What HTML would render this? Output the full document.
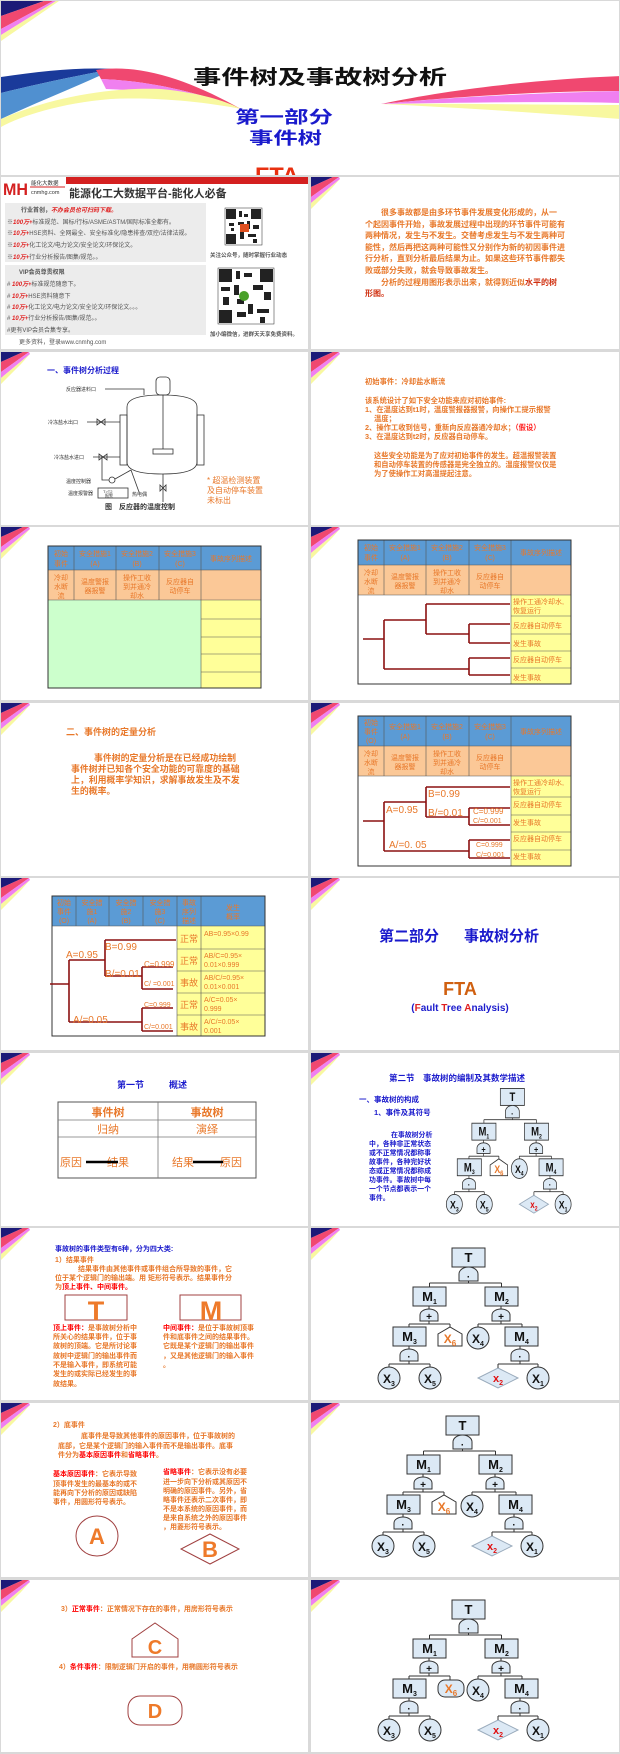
<!DOCTYPE html>
<html><head><meta charset="utf-8">
<style>
html,body{margin:0;padding:0;background:#d9d9d9;}
body{width:620px;height:1754px;position:relative;overflow:hidden;font-family:"Liberation Sans","Noto Sans CJK SC",sans-serif;}
.s{position:absolute;background:#fff;overflow:hidden;}
.s svg{position:absolute;left:0;top:0;}
text{font-family:"Liberation Sans","Noto Sans CJK SC",sans-serif;}
.o{fill:#e8782a;}
.ob{fill:#e8782a;font-weight:bold;}
.bl{fill:#1a1acc;font-weight:bold;}
.rd{fill:#ff0000;font-weight:bold;}
.br{fill:none;stroke:#8b1010;stroke-width:1.6;}
</style></head><body>

<!-- Title slide -->
<div class="s" style="left:1px;top:1px;width:618px;height:174px">
<svg width="618" height="174">
<polygon points="0,0 43,0 0,15" fill="#1c1a78"/>
<polygon points="43,0 52,0 0,28 0,15" fill="#f04870"/>
<polygon points="52,0 55,0 0,34 0,28" fill="#f080f0"/>
<polygon points="55,0 58,0 0,40 0,34" fill="#f8f8a0"/>
<path d="M0,76 C40,70 80,66 112,68 C80,74 40,82 0,92 Z" fill="#1a3a9a"/>
<path d="M0,92 C40,82 80,74 112,68 C90,80 50,95 0,118 Z" fill="#5090d0"/>
<path d="M95,69 C140,62 190,80 240,108 C200,92 150,80 100,78 Z" fill="#f04870"/>
<path d="M100,78 C150,80 200,92 240,108 C200,96 150,90 105,88 Z" fill="#f080f0"/>
<path d="M0,118 C50,96 110,86 160,88 C200,92 225,100 240,108 C200,100 150,96 110,98 C60,102 20,115 0,126 Z" fill="#f8f8a0"/>
<path d="M380,103 C450,88 540,78 620,75 L620,90 C540,90 450,96 380,103 Z" fill="#f04870"/>
<path d="M380,103 C450,96 540,92 620,90 L620,102 C540,100 450,102 380,103 Z" fill="#f080f0"/>
<path d="M380,103 C450,102 540,104 620,104 L620,118 C540,112 450,106 380,103 Z" fill="#f8f8a0"/>
<text x="192" y="83" font-size="20" font-weight="bold" fill="#111" textLength="254" lengthAdjust="spacingAndGlyphs">事件树及事故树分析</text>
<text x="234" y="122" font-size="17" font-weight="bold" fill="#1a1acc" textLength="98" lengthAdjust="spacingAndGlyphs">第一部分</text>
<text x="248" y="143" font-size="17" font-weight="bold" fill="#1a1acc" textLength="73" lengthAdjust="spacingAndGlyphs">事件树</text>
<text x="254" y="182" font-size="22" font-weight="bold" fill="#e83010" textLength="44" lengthAdjust="spacingAndGlyphs">FTA</text>
</svg></div>

<!-- Row 2 left: ad -->
<div class="s" style="left:1px;top:177px;width:307px;height:172px">
<svg width="307" height="172">
<rect x="65" y="0" width="242" height="7" fill="#d42020"/>
<text x="2" y="18" font-size="17" font-weight="bold" fill="#d42020" textLength="25" lengthAdjust="spacingAndGlyphs">MH</text>
<text x="30" y="8" font-size="5.5" fill="#333">能化大数据</text>
<line x1="29" y1="10" x2="64" y2="10" stroke="#d42020"/>
<text x="30" y="17" font-size="5.5" fill="#333">cnmhg.com</text>
<text x="68" y="20" font-size="11" font-weight="bold" fill="#333">能源化工大数据平台-能化人必备</text>
<rect x="4" y="26" width="201" height="59" fill="#ececec"/>
<rect x="4" y="88" width="201" height="70" fill="#ececec"/>
<g font-size="6" fill="#555">
<text x="20" y="35" font-weight="bold">行业首创，<tspan fill="#e02020" font-style="italic">不办会员也可扫码下载。</tspan></text>
<text x="6" y="47">※<tspan fill="#e02020" font-style="italic" font-weight="bold">100万+</tspan>标准规范、国标/行标/ASME/ASTM/国际标准全都有。</text>
<text x="6" y="58">※<tspan fill="#e02020" font-style="italic" font-weight="bold">10万+</tspan>HSE资料、全网最全、安全标准化/隐患排查/双控/法律法规。</text>
<text x="6" y="70">※<tspan fill="#e02020" font-style="italic" font-weight="bold">10万+</tspan>化工论文/电力论文/安全论文/环保论文。</text>
<text x="6" y="82">※<tspan fill="#e02020" font-style="italic" font-weight="bold">10万+</tspan>行业分析报告/图集/规范。。</text>
<text x="18" y="97" font-weight="bold">VIP会员尊贵权限</text>
<text x="6" y="109"># <tspan fill="#e02020" font-style="italic" font-weight="bold">100万+</tspan>标准规范随意下。</text>
<text x="6" y="121"># <tspan fill="#e02020" font-style="italic" font-weight="bold">10万+</tspan>HSE资料随意下</text>
<text x="6" y="132"># <tspan fill="#e02020" font-style="italic" font-weight="bold">10万+</tspan>化工论文/电力论文/安全论文/环保论文。。。</text>
<text x="6" y="143"># <tspan fill="#e02020" font-style="italic" font-weight="bold">10万+</tspan>行业分析报告/图集/规范。。</text>
<text x="6" y="155">#更有VIP会员合集专享。</text>
<text x="18" y="167">更多资料，登录www.cnmhg.com</text>
<text x="209" y="80" font-size="5.5" font-weight="bold">关注公众号，随时掌握行业动态</text>
<text x="209" y="159" font-size="5.5" font-weight="bold">加小编微信，进群天天享免费资料。</text>
</g>
<g fill="#222">
<rect x="224" y="31" width="37" height="37" fill="#fff" stroke="#222" stroke-width="0.5"/>
<rect x="225" y="32" width="10" height="10"/><rect x="250" y="32" width="10" height="10"/><rect x="225" y="57" width="10" height="10"/>
<rect x="238" y="34" width="3" height="6"/><rect x="243" y="37" width="4" height="3"/><rect x="237" y="45" width="6" height="3"/><rect x="246" y="44" width="3" height="8"/><rect x="228" y="46" width="5" height="3"/><rect x="252" y="48" width="6" height="4"/><rect x="239" y="55" width="4" height="7"/><rect x="247" y="57" width="8" height="3"/><rect x="252" y="62" width="4" height="4"/><rect x="230" y="51" width="3" height="3"/>
<rect x="239" y="47" width="9" height="8" fill="#e05020"/>
<rect x="217" y="91" width="56" height="56" fill="#fff" stroke="#222" stroke-width="0.5"/>
<rect x="218" y="92" width="13" height="13"/><rect x="259" y="92" width="13" height="13"/><rect x="218" y="133" width="13" height="13"/>
<rect x="235" y="94" width="4" height="8"/><rect x="243" y="96" width="8" height="4"/><rect x="220" y="110" width="9" height="4"/><rect x="233" y="108" width="5" height="10"/><rect x="252" y="108" width="10" height="5"/><rect x="263" y="115" width="7" height="8"/><rect x="222" y="120" width="6" height="8"/><rect x="247" y="127" width="5" height="10"/><rect x="236" y="135" width="9" height="5"/><rect x="256" y="132" width="12" height="4"/><rect x="259" y="140" width="5" height="6"/><rect x="236" y="122" width="7" height="5"/>
<circle cx="243" cy="119" r="5" fill="#4aa02a"/>
</g>
</svg></div>

<!-- Row 2 right -->
<div class="s" style="left:311px;top:177px;width:308px;height:172px">
<svg width="308" height="172">
<polygon points="0,0 22,0 0,10" fill="#1c1a78"/><polygon points="22,0 28,0 0,20 0,10" fill="#f04870"/><polygon points="28,0 29,2 0,26 0,20" fill="#f080f0"/><polygon points="29,2 20,12 0,32 0,26" fill="#f8f8a0"/>
<g font-size="8" class="ob">
<text x="70" y="38">很多事故都是由多环节事件发展变化形成的，从一</text>
<text x="54" y="50">个起因事件开始，事故发展过程中出现的环节事件可能有</text>
<text x="54" y="61">两种情况，发生与不发生。交替考虑发生与不发生两种可</text>
<text x="54" y="73">能性，然后再把这两种可能性又分别作为新的初因事件进</text>
<text x="54" y="84">行分析，直到分析最后结果为止。如果这些环节事件都失</text>
<text x="54" y="96">败或部分失败，就会导致事故发生。</text>
<text x="70" y="108">分析的过程用图形表示出来，就得到近似<tspan fill="#d03010">水平的树</tspan></text>
<text x="54" y="119" fill="#d03010">形图。</text>
</g>
</svg></div>

<!-- Row 3 left -->
<div class="s" style="left:1px;top:352px;width:307px;height:173px">
<svg width="307" height="173">
<polygon points="0,0 22,0 0,10" fill="#1c1a78"/><polygon points="22,0 28,0 0,20 0,10" fill="#f04870"/><polygon points="28,0 29,2 0,26 0,20" fill="#f080f0"/><polygon points="29,2 20,12 0,32 0,26" fill="#f8f8a0"/>
<text x="46" y="21" font-size="8" class="bl">一、事件树分析过程</text>
<g fill="none" stroke="#333" stroke-width="0.8">
<path d="M126,55 Q126,43 161,43 Q196,43 196,55 V110 Q196,122 161,122 Q126,122 126,110 Z"/>
<rect x="155" y="25" width="14" height="18" rx="4"/>
<line x1="162" y1="43" x2="162" y2="97"/>
<rect x="152" y="97" width="20" height="5"/>
<rect x="119" y="63" width="7" height="50"/><rect x="196" y="63" width="7" height="50"/>
<path d="M104,37 H143 V43"/>
<path d="M86,70 H119 M96,67 L104,73 V67 L96,73 Z"/>
<path d="M92,105 H119 M98,102 L106,108 V102 L98,108 Z"/>
<path d="M101,105 V128 H108"/><circle cx="111" cy="128" r="3"/>
<path d="M114,127 L130,118"/>
<rect x="97" y="136" width="30" height="10"/>
<path d="M130,118 L138,140"/>
<path d="M162,122 V150 M159,133 L165,139 V133 L159,139 Z"/>
</g>
<g font-size="5" fill="#333">
<text x="65" y="39">反应器进料口</text>
<text x="47" y="72">冷冻盐水出口</text>
<text x="53" y="107">冷冻盐水进口</text>
<text x="65" y="131">温度控制器</text>
<text x="67" y="143">温度报警器</text>
<text x="102" y="141" font-size="4">T&gt;T2</text><text x="104" y="145" font-size="4">报警</text>
<text x="131" y="144">热电偶</text>
</g>
<text x="104" y="157" font-size="7" font-weight="bold" fill="#333">图　反应器的温度控制</text>
<g font-size="8" class="o"><text x="206" y="131">* 超温检测装置</text><text x="206" y="141">及自动停车装置</text><text x="206" y="151">未标出</text></g>
</svg></div>

<!-- Row 3 right -->
<div class="s" style="left:311px;top:352px;width:308px;height:173px">
<svg width="308" height="173">
<polygon points="0,0 22,0 0,10" fill="#1c1a78"/><polygon points="22,0 28,0 0,20 0,10" fill="#f04870"/><polygon points="28,0 29,2 0,26 0,20" fill="#f080f0"/><polygon points="29,2 20,12 0,32 0,26" fill="#f8f8a0"/>
<g font-size="7.3" class="ob">
<text x="54" y="32">初始事件：冷却盐水断流</text>
<text x="54" y="51">该系统设计了如下安全功能来应对初始事件:</text>
<text x="54" y="60">1、在温度达到t1时，温度警报器报警，向操作工提示报警</text>
<text x="63" y="69">温度；</text>
<text x="54" y="78">2、操作工收到信号，重新向反应器通冷却水；<tspan fill="#ff2020">（假设）</tspan></text>
<text x="54" y="87">3、在温度达到t2时，反应器自动停车。</text>
<text x="63" y="106">这些安全功能是为了应对初始事件的发生。超温报警装置</text>
<text x="63" y="115">和自动停车装置的传感器是完全独立的。温度报警仪仅是</text>
<text x="63" y="124">为了使操作工对高温提起注意。</text>
</g>
</svg></div>

<!-- Row 4 left -->
<div class="s" style="left:1px;top:527px;width:307px;height:173px">
<svg width="307" height="173">
<polygon points="0,0 22,0 0,10" fill="#1c1a78"/><polygon points="22,0 28,0 0,20 0,10" fill="#f04870"/><polygon points="28,0 29,2 0,26 0,20" fill="#f080f0"/><polygon points="29,2 20,12 0,32 0,26" fill="#f8f8a0"/>
<rect x="47" y="19" width="213" height="24" fill="#5b9bd5"/>
<rect x="47" y="43" width="213" height="30" fill="#fbc897"/>
<rect x="47" y="73" width="153" height="88" fill="#ccffcc"/>
<rect x="200" y="73" width="60" height="88" fill="#ffff99"/>
<g stroke="#555" stroke-width="0.6"><line x1="47" y1="43" x2="260" y2="43"/><line x1="47" y1="73" x2="260" y2="73"/>
<line x1="73" y1="19" x2="73" y2="73"/><line x1="115" y1="19" x2="115" y2="73"/><line x1="158" y1="19" x2="158" y2="73"/><line x1="200" y1="19" x2="200" y2="161"/>
<line x1="200" y1="92" x2="260" y2="92"/><line x1="200" y1="110" x2="260" y2="110"/><line x1="200" y1="127" x2="260" y2="127"/><line x1="200" y1="145" x2="260" y2="145"/></g>
<rect x="47" y="19" width="213" height="142" fill="none" stroke="#333" stroke-width="1"/>
<g font-size="7" class="o" text-anchor="middle">
<text x="60" y="29">初始</text><text x="60" y="39">事件</text>
<text x="94" y="29">安全措施1</text><text x="94" y="39">(A)</text>
<text x="136" y="29">安全措施2</text><text x="136" y="39">(B)</text>
<text x="179" y="29">安全措施3</text><text x="179" y="39">(C)</text>
<text x="230" y="34">事故序列描述</text>
<text x="60" y="53">冷却</text><text x="60" y="62">水断</text><text x="60" y="71">流</text>
<text x="94" y="57">温度警报</text><text x="94" y="66">器报警</text>
<text x="136" y="53">操作工收</text><text x="136" y="62">到并通冷</text><text x="136" y="71">却水</text>
<text x="179" y="57">反应器自</text><text x="179" y="66">动停车</text>
</g>
</svg></div>

<!-- Row 4 right -->
<div class="s" style="left:311px;top:527px;width:308px;height:173px">
<svg width="308" height="173">
<polygon points="0,0 22,0 0,10" fill="#1c1a78"/><polygon points="22,0 28,0 0,20 0,10" fill="#f04870"/><polygon points="28,0 29,2 0,26 0,20" fill="#f080f0"/><polygon points="29,2 20,12 0,32 0,26" fill="#f8f8a0"/>
<rect x="47" y="13" width="213" height="25" fill="#5b9bd5"/>
<rect x="47" y="38" width="213" height="30" fill="#fbc897"/>
<rect x="200" y="68" width="60" height="89" fill="#ffff99"/>
<g stroke="#555" stroke-width="0.6"><line x1="47" y1="38" x2="260" y2="38"/><line x1="47" y1="68" x2="260" y2="68"/>
<line x1="73" y1="13" x2="73" y2="68"/><line x1="115" y1="13" x2="115" y2="68"/><line x1="158" y1="13" x2="158" y2="68"/><line x1="200" y1="13" x2="200" y2="157"/>
<line x1="200" y1="89" x2="260" y2="89"/><line x1="200" y1="107" x2="260" y2="107"/><line x1="200" y1="124" x2="260" y2="124"/><line x1="200" y1="141" x2="260" y2="141"/></g>
<rect x="47" y="13" width="213" height="144" fill="none" stroke="#333" stroke-width="1"/>
<g font-size="7" class="o" text-anchor="middle">
<text x="60" y="23">初始</text><text x="60" y="33">事件</text>
<text x="94" y="23">安全措施1</text><text x="94" y="33">(A)</text>
<text x="136" y="23">安全措施2</text><text x="136" y="33">(B)</text>
<text x="179" y="23">安全措施3</text><text x="179" y="33">(C)</text>
<text x="230" y="28">事故序列描述</text>
<text x="60" y="48">冷却</text><text x="60" y="57">水断</text><text x="60" y="66">流</text>
<text x="94" y="52">温度警报</text><text x="94" y="61">器报警</text>
<text x="136" y="48">操作工收</text><text x="136" y="57">到并通冷</text><text x="136" y="66">却水</text>
<text x="179" y="52">反应器自</text><text x="179" y="61">动停车</text>
</g>
<g font-size="7" class="o"><text x="202" y="77">操作工通冷却水,</text><text x="202" y="86">恢复运行</text><text x="202" y="101">反应器自动停车</text><text x="202" y="119">发生事故</text><text x="202" y="135">反应器自动停车</text><text x="202" y="153">发生事故</text></g>
<path class="br" d="M52,112 H73 M73,93 V142 M73,93 H115 M115,77 V107 M115,77 H199 M115,107 H158 M158,97 V116 M158,97 H199 M158,116 H199 M73,142 H158 M158,131 V148 M158,131 H199 M158,148 H199"/>
</svg></div>

<!-- Row 5 left -->
<div class="s" style="left:1px;top:703px;width:307px;height:173px">
<svg width="307" height="173">
<polygon points="0,0 22,0 0,10" fill="#1c1a78"/><polygon points="22,0 28,0 0,20 0,10" fill="#f04870"/><polygon points="28,0 29,2 0,26 0,20" fill="#f080f0"/><polygon points="29,2 20,12 0,32 0,26" fill="#f8f8a0"/>
<text x="65" y="32" font-size="9" class="ob">二、事件树的定量分析</text>
<g font-size="8.9" class="ob">
<text x="93" y="58">事件树的定量分析是在已经成功绘制</text>
<text x="70" y="69">事件树并已知各个安全功能的可靠度的基础</text>
<text x="70" y="80">上，利用概率学知识，求解事故发生及不发</text>
<text x="70" y="91">生的概率。</text>
</g>
</svg></div>

<!-- Row 5 right -->
<div class="s" style="left:311px;top:703px;width:308px;height:173px">
<svg width="308" height="173">
<polygon points="0,0 22,0 0,10" fill="#1c1a78"/><polygon points="22,0 28,0 0,20 0,10" fill="#f04870"/><polygon points="28,0 29,2 0,26 0,20" fill="#f080f0"/><polygon points="29,2 20,12 0,32 0,26" fill="#f8f8a0"/>
<rect x="47" y="13" width="213" height="30" fill="#5b9bd5"/>
<rect x="47" y="43" width="213" height="30" fill="#fbc897"/>
<rect x="200" y="73" width="60" height="90" fill="#ffff99"/>
<g stroke="#555" stroke-width="0.6"><line x1="47" y1="43" x2="260" y2="43"/><line x1="47" y1="73" x2="260" y2="73"/>
<line x1="73" y1="13" x2="73" y2="73"/><line x1="115" y1="13" x2="115" y2="73"/><line x1="158" y1="13" x2="158" y2="73"/><line x1="200" y1="13" x2="200" y2="163"/>
<line x1="200" y1="94" x2="260" y2="94"/><line x1="200" y1="112" x2="260" y2="112"/><line x1="200" y1="129" x2="260" y2="129"/><line x1="200" y1="147" x2="260" y2="147"/></g>
<rect x="47" y="13" width="213" height="150" fill="none" stroke="#333" stroke-width="1"/>
<g font-size="7" class="o" text-anchor="middle">
<text x="60" y="22">初始</text><text x="60" y="31">事件</text><text x="60" y="40">(O)</text>
<text x="94" y="26">安全措施1</text><text x="94" y="36">(A)</text>
<text x="136" y="26">安全措施2</text><text x="136" y="36">(B)</text>
<text x="179" y="26">安全措施3</text><text x="179" y="36">(C)</text>
<text x="230" y="31">事故序列描述</text>
<text x="60" y="53">冷却</text><text x="60" y="62">水断</text><text x="60" y="71">流</text>
<text x="94" y="57">温度警报</text><text x="94" y="66">器报警</text>
<text x="136" y="53">操作工收</text><text x="136" y="62">到并通冷</text><text x="136" y="71">却水</text>
<text x="179" y="57">反应器自</text><text x="179" y="66">动停车</text>
</g>
<g font-size="7" class="o"><text x="202" y="82">操作工通冷却水,</text><text x="202" y="91">恢复运行</text><text x="202" y="104">反应器自动停车</text><text x="202" y="122">发生事故</text><text x="202" y="138">反应器自动停车</text><text x="202" y="156">发生事故</text></g>
<path class="br" d="M52,118 H73 M73,99 V148 M73,99 H115 M115,84 V114 M115,84 H199 M115,114 H158 M158,105 V122 M158,105 H199 M158,122 H199 M73,148 H158 M158,137 V155 M158,137 H199 M158,155 H199"/>
<g class="o">
<text x="117" y="94" font-size="10">B=0.99</text>
<text x="75" y="110" font-size="10">A=0.95</text>
<text x="117" y="113" font-size="10">B/=0.01</text>
<text x="162" y="111" font-size="8">C=0.999</text>
<text x="162" y="120" font-size="7">C/=0.001</text>
<text x="78" y="145" font-size="10">A/=0. 05</text>
<text x="165" y="144" font-size="7">C=0.999</text>
<text x="165" y="154" font-size="7">C/=0.001</text>
</g>
</svg></div>

<!-- Row 6 left -->
<div class="s" style="left:1px;top:878px;width:307px;height:172px">
<svg width="307" height="172">
<polygon points="0,0 22,0 0,10" fill="#1c1a78"/><polygon points="22,0 28,0 0,20 0,10" fill="#f04870"/><polygon points="28,0 29,2 0,26 0,20" fill="#f080f0"/><polygon points="29,2 20,12 0,32 0,26" fill="#f8f8a0"/>
<rect x="51" y="18" width="213" height="30" fill="#5b9bd5"/>
<rect x="176" y="48" width="88" height="110" fill="#ffff99"/>
<g stroke="#555" stroke-width="0.6"><line x1="51" y1="48" x2="264" y2="48"/>
<line x1="75" y1="18" x2="75" y2="48"/><line x1="108" y1="18" x2="108" y2="48"/><line x1="142" y1="18" x2="142" y2="48"/><line x1="176" y1="18" x2="176" y2="158"/><line x1="200" y1="18" x2="200" y2="158"/>
<line x1="176" y1="71" x2="264" y2="71"/><line x1="176" y1="93" x2="264" y2="93"/><line x1="176" y1="115" x2="264" y2="115"/><line x1="176" y1="137" x2="264" y2="137"/></g>
<rect x="51" y="18" width="213" height="140" fill="none" stroke="#333" stroke-width="1"/>
<g font-size="7" class="o" text-anchor="middle">
<text x="63" y="27">初始</text><text x="63" y="36">事件</text><text x="63" y="45">(O)</text>
<text x="91" y="27">安全措</text><text x="91" y="36">施1</text><text x="91" y="45">(A)</text>
<text x="125" y="27">安全措</text><text x="125" y="36">施2</text><text x="125" y="45">(B)</text>
<text x="159" y="27">安全措</text><text x="159" y="36">施3</text><text x="159" y="45">(C)</text>
<text x="188" y="27">事故</text><text x="188" y="36">序列</text><text x="188" y="45">描述</text>
<text x="232" y="32">发生</text><text x="232" y="41">概率</text>
</g>
<g font-size="9" class="o" text-anchor="middle"><text x="188" y="64">正常</text><text x="188" y="86">正常</text><text x="188" y="108">事故</text><text x="188" y="130">正常</text><text x="188" y="152">事故</text></g>
<g font-size="7" class="o">
<text x="203" y="58">AB=0.95×0.99</text>
<text x="203" y="80">AB/C=0.95×</text><text x="203" y="89">0.01×0.999</text>
<text x="203" y="102">AB/C/=0.95×</text><text x="203" y="111">0.01×0.001</text>
<text x="203" y="124">A/C=0.05×</text><text x="203" y="133">0.999</text>
<text x="203" y="146">A/C/=0.05×</text><text x="203" y="155">0.001</text>
</g>
<path class="br" d="M49,106 H68 M68,82 V144 M68,82 H104 M104,62 V98 M104,62 H175 M104,98 H141 M141,89 V111 M141,89 H172 M141,111 H172 M68,144 H141 M141,130 V153 M141,130 H172 M141,153 H172"/>
<g class="o">
<text x="65" y="80" font-size="10">A=0.95</text>
<text x="104" y="72" font-size="10">B=0.99</text>
<text x="104" y="99" font-size="10">B/=0.01</text>
<text x="143" y="89" font-size="8">C=0.999</text>
<text x="143" y="108" font-size="7">C/ =0.001</text>
<text x="72" y="145" font-size="10">A/=0.05</text>
<text x="143" y="129" font-size="7">C=0.999</text>
<text x="143" y="151" font-size="7">C/=0.001</text>
</g>
</svg></div>

<!-- Row 6 right -->
<div class="s" style="left:311px;top:878px;width:308px;height:172px">
<svg width="308" height="172">
<polygon points="0,0 22,0 0,10" fill="#1c1a78"/><polygon points="22,0 28,0 0,20 0,10" fill="#f04870"/><polygon points="28,0 29,2 0,26 0,20" fill="#f080f0"/><polygon points="29,2 20,12 0,32 0,26" fill="#f8f8a0"/>
<text x="68" y="63" font-size="15" class="bl">第二部分</text>
<text x="153" y="63" font-size="15" class="bl">事故树分析</text>
<text x="149" y="117" font-size="18" font-weight="bold" text-anchor="middle" fill="#d06010" font-family="Liberation Serif,serif">FTA</text>
<text x="149" y="133" font-size="10" font-weight="bold" text-anchor="middle" fill="#1a1acc" font-family="Liberation Serif,serif">(<tspan fill="#e02020">F</tspan>ault <tspan fill="#e02020">T</tspan>ree <tspan fill="#e02020">A</tspan>nalysis)</text>
</svg></div>

<!-- Row 7 left -->
<div class="s" style="left:1px;top:1053px;width:307px;height:173px">
<svg width="307" height="173">
<polygon points="0,0 22,0 0,10" fill="#1c1a78"/><polygon points="22,0 28,0 0,20 0,10" fill="#f04870"/><polygon points="28,0 29,2 0,26 0,20" fill="#f080f0"/><polygon points="29,2 20,12 0,32 0,26" fill="#f8f8a0"/>
<text x="116" y="35" font-size="9" class="bl">第一节</text><text x="168" y="35" font-size="9" class="bl">概述</text>
<rect x="57" y="49" width="198" height="76" fill="none" stroke="#555" stroke-width="1"/>
<g stroke="#777" stroke-width="0.8"><line x1="57" y1="67" x2="255" y2="67"/><line x1="57" y1="84" x2="255" y2="84"/><line x1="157" y1="49" x2="157" y2="125"/></g>
<g font-size="11" class="ob" text-anchor="middle"><text x="107" y="63">事件树</text><text x="206" y="63">事故树</text></g>
<g font-size="11" class="o" text-anchor="middle"><text x="107" y="80">归纳</text><text x="206" y="80">演绎</text></g>
<g font-size="11" class="o"><text x="59" y="113">原因</text><text x="106" y="113">结果</text><text x="171" y="113">结果</text><text x="219" y="113">原因</text></g>
<path d="M85,109 H117 M192,109 H222" stroke="#000" stroke-width="2.5"/>
</svg></div>

<!-- Row 7 right -->
<div class="s" style="left:311px;top:1053px;width:308px;height:173px">
<svg width="308" height="173">
<polygon points="0,0 22,0 0,10" fill="#1c1a78"/><polygon points="22,0 28,0 0,20 0,10" fill="#f04870"/><polygon points="28,0 29,2 0,26 0,20" fill="#f080f0"/><polygon points="29,2 20,12 0,32 0,26" fill="#f8f8a0"/>
<text x="78" y="28" font-size="8.5" class="bl">第二节　事故树的编制及其数学描述</text>
<text x="48" y="49" font-size="7.5" class="bl">一、事故树的构成</text>
<text x="63" y="62" font-size="7.5" class="bl">1、事件及其符号</text>
<g font-size="6.9" class="bl">
<text x="80" y="84">在事故树分析</text><text x="58" y="93">中，各种非正常状态</text><text x="58" y="102">或不正常情况都称事</text><text x="58" y="111">故事件，各种完好状</text><text x="58" y="120">态或正常情况都称成</text><text x="58" y="129">功事件。事故树中每</text><text x="58" y="138">一个节点都表示一个</text><text x="58" y="147">事件。</text>
</g>
<g transform="translate(86.4,17.7) scale(0.73,0.89)">
<g fill="#dce9f5" stroke="#333" stroke-width="1">
<rect x="141" y="20" width="33" height="19"/><path d="M148,53V46A9.5,7 0 0 1 167,46V53Z"/>
<rect x="102" y="59" width="33" height="19"/><rect x="174" y="59" width="33" height="19"/>
<path d="M109,93V87A9,6 0 0 1 127,87V93Z"/><path d="M181,93V87A9,6 0 0 1 199,87V93Z"/>
<rect x="82" y="99" width="33" height="19"/><polygon fill="#fff" points="127,118 151,118 151,106 139,99 127,106"/>
<circle cx="167" cy="110" r="11"/><rect x="194" y="99" width="33" height="19"/>
<path d="M89,133V127A9,6 0 0 1 107,127V133Z"/><path d="M200,133V127A9,6 0 0 1 218,127V133Z"/>
<circle cx="78" cy="150" r="11"/><circle cx="119" cy="150" r="11"/>
<polygon stroke="#9ab" points="187,140 207,150 187,160 167,150"/><circle cx="227" cy="150" r="11"/>
</g>
<path fill="none" stroke="#333" d="M157.5,53V55 M118.5,55H190.5 M118.5,55V59 M190.5,55V59 M118,78V81 M118,93V96 M98,96H139 M98,96V99 M139,96V99 M190,78V81 M190,93V96 M167,96H211 M167,96V99 M211,96V99 M98,118V121 M98,133V136 M78,136H119 M78,136V139 M119,136V139 M209,118V121 M209,133V136 M187,136H227 M187,136V140 M227,136V139"/>
<g font-family="Liberation Serif,serif" font-weight="bold" font-size="13" text-anchor="middle" fill="#111">
<text x="157.5" y="34">T</text><text x="157.5" y="52" font-size="10">·</text>
<text x="118.5" y="73">M<tspan font-size="7" dy="3">1</tspan></text><text x="190.5" y="73">M<tspan font-size="7" dy="3">2</tspan></text>
<text x="118" y="92" font-size="10">+</text><text x="190" y="92" font-size="10">+</text>
<text x="98.5" y="113">M<tspan font-size="7" dy="3">3</tspan></text><text x="210.5" y="113">M<tspan font-size="7" dy="3">4</tspan></text>
<text x="139" y="115" fill="#e8782a" font-size="12">X<tspan font-size="8" dy="3">6</tspan></text>
<text x="167" y="115" font-size="12">X<tspan font-size="7" dy="3">4</tspan></text>
<text x="98" y="132" font-size="10">·</text><text x="209" y="132" font-size="10">·</text>
<text x="78" y="155" font-size="12">X<tspan font-size="7" dy="3">3</tspan></text><text x="119" y="155" font-size="12">X<tspan font-size="7" dy="3">5</tspan></text>
<text x="187" y="154" font-size="11" fill="#e01010">x<tspan font-size="7" dy="3">2</tspan></text><text x="227" y="155" font-size="12">X<tspan font-size="7" dy="3">1</tspan></text>
</g>
</g>
</svg></div>

<!-- Row 8 left -->
<div class="s" style="left:1px;top:1228px;width:307px;height:172px">
<svg width="307" height="172">
<polygon points="0,0 22,0 0,10" fill="#1c1a78"/><polygon points="22,0 28,0 0,20 0,10" fill="#f04870"/><polygon points="28,0 29,2 0,26 0,20" fill="#f080f0"/><polygon points="29,2 20,12 0,32 0,26" fill="#f8f8a0"/>
<text x="54" y="23" font-size="7" class="bl">事故树的事件类型有6种，分为四大类:</text>
<g font-size="7" class="ob">
<text x="54" y="34">1）结果事件</text>
<text x="77" y="43">结果事件由其他事件或事件组合所导致的事件，它</text>
<text x="54" y="52">位于某个逻辑门的输出端。用 矩形符号表示。结果事件分</text>
<text x="54" y="61">为<tspan fill="#ff0000">顶上事件、中间事件。</tspan></text>
</g>
<rect x="64" y="67" width="62" height="25" fill="#fff" stroke="#a04040"/>
<rect x="179" y="67" width="61" height="25" fill="#fff" stroke="#a04040"/>
<text x="95" y="92" font-size="27" font-weight="bold" text-anchor="middle" fill="#ee7a2a">T</text>
<text x="210" y="92" font-size="27" font-weight="bold" text-anchor="middle" fill="#ee7a2a">M</text>
<g font-size="7" class="ob">
<text x="52" y="102"><tspan fill="#ff0000">顶上事件：</tspan>是事故树分析中</text>
<text x="52" y="111">所关心的结果事件，位于事</text>
<text x="52" y="120">故树的顶端。它是所讨论事</text>
<text x="52" y="130">故树中逻辑门的输出事件而</text>
<text x="52" y="139">不是输入事件，即系统可能</text>
<text x="52" y="148">发生的或实际已经发生的事</text>
<text x="52" y="158">故结果。</text>
<text x="162" y="102"><tspan fill="#ff0000">中间事件：</tspan>是位于事故树顶事</text>
<text x="162" y="111">件和底事件之间的结果事件。</text>
<text x="162" y="120">它既是某个逻辑门的输出事件</text>
<text x="162" y="130">，又是其他逻辑门的输入事件</text>
<text x="162" y="139">。</text>
</g>
</svg></div>

<!-- Row 8 right -->
<div class="s" style="left:311px;top:1228px;width:308px;height:172px">
<svg width="308" height="172">
<polygon points="0,0 22,0 0,10" fill="#1c1a78"/><polygon points="22,0 28,0 0,20 0,10" fill="#f04870"/><polygon points="28,0 29,2 0,26 0,20" fill="#f080f0"/><polygon points="29,2 20,12 0,32 0,26" fill="#f8f8a0"/>
<g>
<g fill="#dce9f5" stroke="#333" stroke-width="1">
<rect x="141" y="20" width="33" height="19"/><path d="M148,53V46A9.5,7 0 0 1 167,46V53Z"/>
<rect x="102" y="59" width="33" height="19"/><rect x="174" y="59" width="33" height="19"/>
<path d="M109,93V87A9,6 0 0 1 127,87V93Z"/><path d="M181,93V87A9,6 0 0 1 199,87V93Z"/>
<rect x="82" y="99" width="33" height="19"/><polygon fill="#fff" points="127,118 151,118 151,106 139,99 127,106"/>
<circle cx="167" cy="110" r="11"/><rect x="194" y="99" width="33" height="19"/>
<path d="M89,133V127A9,6 0 0 1 107,127V133Z"/><path d="M200,133V127A9,6 0 0 1 218,127V133Z"/>
<circle cx="78" cy="150" r="11"/><circle cx="119" cy="150" r="11"/>
<polygon stroke="#9ab" points="187,140 207,150 187,160 167,150"/><circle cx="227" cy="150" r="11"/>
</g>
<path fill="none" stroke="#333" d="M157.5,53V55 M118.5,55H190.5 M118.5,55V59 M190.5,55V59 M118,78V81 M118,93V96 M98,96H139 M98,96V99 M139,96V99 M190,78V81 M190,93V96 M167,96H211 M167,96V99 M211,96V99 M98,118V121 M98,133V136 M78,136H119 M78,136V139 M119,136V139 M209,118V121 M209,133V136 M187,136H227 M187,136V140 M227,136V139"/>
<g font-family="Liberation Serif,serif" font-weight="bold" font-size="13" text-anchor="middle" fill="#111">
<text x="157.5" y="34">T</text><text x="157.5" y="52" font-size="10">·</text>
<text x="118.5" y="73">M<tspan font-size="7" dy="3">1</tspan></text><text x="190.5" y="73">M<tspan font-size="7" dy="3">2</tspan></text>
<text x="118" y="92" font-size="10">+</text><text x="190" y="92" font-size="10">+</text>
<text x="98.5" y="113">M<tspan font-size="7" dy="3">3</tspan></text><text x="210.5" y="113">M<tspan font-size="7" dy="3">4</tspan></text>
<text x="139" y="115" fill="#e8782a" font-size="12">X<tspan font-size="8" dy="3">6</tspan></text>
<text x="167" y="115" font-size="12">X<tspan font-size="7" dy="3">4</tspan></text>
<text x="98" y="132" font-size="10">·</text><text x="209" y="132" font-size="10">·</text>
<text x="78" y="155" font-size="12">X<tspan font-size="7" dy="3">3</tspan></text><text x="119" y="155" font-size="12">X<tspan font-size="7" dy="3">5</tspan></text>
<text x="187" y="154" font-size="11" fill="#e01010">x<tspan font-size="7" dy="3">2</tspan></text><text x="227" y="155" font-size="12">X<tspan font-size="7" dy="3">1</tspan></text>
</g>
</g>
</svg></div>

<!-- Row 9 left -->
<div class="s" style="left:1px;top:1403px;width:307px;height:174px">
<svg width="307" height="174">
<polygon points="0,0 22,0 0,10" fill="#1c1a78"/><polygon points="22,0 28,0 0,20 0,10" fill="#f04870"/><polygon points="28,0 29,2 0,26 0,20" fill="#f080f0"/><polygon points="29,2 20,12 0,32 0,26" fill="#f8f8a0"/>
<g font-size="7" class="ob">
<text x="52" y="24">2）底事件</text>
<text x="80" y="35">底事件是导致其他事件的原因事件，位于事故树的</text>
<text x="57" y="45">底部，它是某个逻辑门的输入事件而不是输出事件。底事</text>
<text x="57" y="54">件分为<tspan fill="#ff0000">基本原因事件</tspan>和<tspan fill="#ff0000">省略事件</tspan>。</text>
<text x="52" y="73"><tspan fill="#ff0000">基本原因事件</tspan>：它表示导致</text>
<text x="52" y="83">顶事件发生的最基本的或不</text>
<text x="52" y="92">能再向下分析的原因或缺陷</text>
<text x="52" y="101">事件，用圆形符号表示。</text>
<text x="162" y="71"><tspan fill="#ff0000">省略事件</tspan>：它表示没有必要</text>
<text x="162" y="81">进一步向下分析或其原因不</text>
<text x="162" y="90">明确的原因事件。另外，省</text>
<text x="162" y="99">略事件还表示二次事件，即</text>
<text x="162" y="108">不是本系统的原因事件，而</text>
<text x="162" y="117">是来自系统之外的原因事件</text>
<text x="162" y="126">，用菱形符号表示。</text>
</g>
<ellipse cx="96" cy="133" rx="21" ry="20" fill="none" stroke="#a04040"/>
<polygon points="209,131 238,146 209,161 180,146" fill="none" stroke="#a04040"/>
<text x="96" y="141" font-size="22" font-weight="bold" text-anchor="middle" fill="#ee7a2a">A</text>
<text x="209" y="154" font-size="22" font-weight="bold" text-anchor="middle" fill="#ee7a2a">B</text>
</svg></div>

<!-- Row 9 right -->
<div class="s" style="left:311px;top:1403px;width:308px;height:174px">
<svg width="308" height="174">
<polygon points="0,0 22,0 0,10" fill="#1c1a78"/><polygon points="22,0 28,0 0,20 0,10" fill="#f04870"/><polygon points="28,0 29,2 0,26 0,20" fill="#f080f0"/><polygon points="29,2 20,12 0,32 0,26" fill="#f8f8a0"/>
<g transform="translate(-6,-7)">
<g fill="#dce9f5" stroke="#333" stroke-width="1">
<rect x="141" y="20" width="33" height="19"/><path d="M148,53V46A9.5,7 0 0 1 167,46V53Z"/>
<rect x="102" y="59" width="33" height="19"/><rect x="174" y="59" width="33" height="19"/>
<path d="M109,93V87A9,6 0 0 1 127,87V93Z"/><path d="M181,93V87A9,6 0 0 1 199,87V93Z"/>
<rect x="82" y="99" width="33" height="19"/><polygon fill="#fff" points="127,118 151,118 151,106 139,99 127,106"/>
<circle cx="167" cy="110" r="11"/><rect x="194" y="99" width="33" height="19"/>
<path d="M89,133V127A9,6 0 0 1 107,127V133Z"/><path d="M200,133V127A9,6 0 0 1 218,127V133Z"/>
<circle cx="78" cy="150" r="11"/><circle cx="119" cy="150" r="11"/>
<polygon stroke="#9ab" points="187,140 207,150 187,160 167,150"/><circle cx="227" cy="150" r="11"/>
</g>
<path fill="none" stroke="#333" d="M157.5,53V55 M118.5,55H190.5 M118.5,55V59 M190.5,55V59 M118,78V81 M118,93V96 M98,96H139 M98,96V99 M139,96V99 M190,78V81 M190,93V96 M167,96H211 M167,96V99 M211,96V99 M98,118V121 M98,133V136 M78,136H119 M78,136V139 M119,136V139 M209,118V121 M209,133V136 M187,136H227 M187,136V140 M227,136V139"/>
<g font-family="Liberation Serif,serif" font-weight="bold" font-size="13" text-anchor="middle" fill="#111">
<text x="157.5" y="34">T</text><text x="157.5" y="52" font-size="10">·</text>
<text x="118.5" y="73">M<tspan font-size="7" dy="3">1</tspan></text><text x="190.5" y="73">M<tspan font-size="7" dy="3">2</tspan></text>
<text x="118" y="92" font-size="10">+</text><text x="190" y="92" font-size="10">+</text>
<text x="98.5" y="113">M<tspan font-size="7" dy="3">3</tspan></text><text x="210.5" y="113">M<tspan font-size="7" dy="3">4</tspan></text>
<text x="139" y="115" fill="#e8782a" font-size="12">X<tspan font-size="8" dy="3">6</tspan></text>
<text x="167" y="115" font-size="12">X<tspan font-size="7" dy="3">4</tspan></text>
<text x="98" y="132" font-size="10">·</text><text x="209" y="132" font-size="10">·</text>
<text x="78" y="155" font-size="12">X<tspan font-size="7" dy="3">3</tspan></text><text x="119" y="155" font-size="12">X<tspan font-size="7" dy="3">5</tspan></text>
<text x="187" y="154" font-size="11" fill="#e01010">x<tspan font-size="7" dy="3">2</tspan></text><text x="227" y="155" font-size="12">X<tspan font-size="7" dy="3">1</tspan></text>
</g>
</g>
</svg></div>

<!-- Row 10 left -->
<div class="s" style="left:1px;top:1580px;width:307px;height:172px">
<svg width="307" height="172">
<polygon points="0,0 22,0 0,10" fill="#1c1a78"/><polygon points="22,0 28,0 0,20 0,10" fill="#f04870"/><polygon points="28,0 29,2 0,26 0,20" fill="#f080f0"/><polygon points="29,2 20,12 0,32 0,26" fill="#f8f8a0"/>
<text x="60" y="31" font-size="7" class="ob">3）<tspan fill="#ff0000">正常事件</tspan>：正常情况下存在的事件，用房形符号表示</text>
<polygon points="131,77 177,77 177,59 154,43 131,59" fill="none" stroke="#a04040"/>
<text x="154" y="74" font-size="20" font-weight="bold" text-anchor="middle" fill="#ee7a2a">C</text>
<text x="58" y="89" font-size="7" class="ob">4）<tspan fill="#ff0000">条件事件</tspan>：限制逻辑门开启的事件，用椭圆形符号表示</text>
<rect x="127" y="116" width="54" height="29" rx="12" fill="none" stroke="#a04040"/>
<text x="154" y="138" font-size="20" font-weight="bold" text-anchor="middle" fill="#ee7a2a">D</text>
</svg></div>

<!-- Row 10 right -->
<div class="s" style="left:311px;top:1580px;width:308px;height:172px">
<svg width="308" height="172">
<polygon points="0,0 22,0 0,10" fill="#1c1a78"/><polygon points="22,0 28,0 0,20 0,10" fill="#f04870"/><polygon points="28,0 29,2 0,26 0,20" fill="#f080f0"/><polygon points="29,2 20,12 0,32 0,26" fill="#f8f8a0"/>
<g>
<g fill="#dce9f5" stroke="#333" stroke-width="1">
<rect x="141" y="20" width="33" height="19"/><path d="M148,53V46A9.5,7 0 0 1 167,46V53Z"/>
<rect x="102" y="59" width="33" height="19"/><rect x="174" y="59" width="33" height="19"/>
<path d="M109,93V87A9,6 0 0 1 127,87V93Z"/><path d="M181,93V87A9,6 0 0 1 199,87V93Z"/>
<rect x="82" y="99" width="33" height="19"/><rect x="127" y="100" width="26" height="17" rx="7" fill="#dce9f5"/>
<circle cx="167" cy="110" r="11"/><rect x="194" y="99" width="33" height="19"/>
<path d="M89,133V127A9,6 0 0 1 107,127V133Z"/><path d="M200,133V127A9,6 0 0 1 218,127V133Z"/>
<circle cx="78" cy="150" r="11"/><circle cx="119" cy="150" r="11"/>
<polygon stroke="#9ab" points="187,140 207,150 187,160 167,150"/><circle cx="227" cy="150" r="11"/>
</g>
<path fill="none" stroke="#333" d="M157.5,53V55 M118.5,55H190.5 M118.5,55V59 M190.5,55V59 M118,78V81 M118,93V96 M98,96H139 M98,96V99 M139,96V100 M190,78V81 M190,93V96 M167,96H211 M167,96V99 M211,96V99 M98,118V121 M98,133V136 M78,136H119 M78,136V139 M119,136V139 M209,118V121 M209,133V136 M187,136H227 M187,136V140 M227,136V139"/>
<g font-family="Liberation Serif,serif" font-weight="bold" font-size="13" text-anchor="middle" fill="#111">
<text x="157.5" y="34">T</text><text x="157.5" y="52" font-size="10">·</text>
<text x="118.5" y="73">M<tspan font-size="7" dy="3">1</tspan></text><text x="190.5" y="73">M<tspan font-size="7" dy="3">2</tspan></text>
<text x="118" y="92" font-size="10">+</text><text x="190" y="92" font-size="10">+</text>
<text x="98.5" y="113">M<tspan font-size="7" dy="3">3</tspan></text><text x="210.5" y="113">M<tspan font-size="7" dy="3">4</tspan></text>
<text x="140" y="113" fill="#e8782a" font-size="12">X<tspan font-size="8" dy="3">6</tspan></text>
<text x="167" y="115" font-size="12">X<tspan font-size="7" dy="3">4</tspan></text>
<text x="98" y="132" font-size="10">·</text><text x="209" y="132" font-size="10">·</text>
<text x="78" y="155" font-size="12">X<tspan font-size="7" dy="3">3</tspan></text><text x="119" y="155" font-size="12">X<tspan font-size="7" dy="3">5</tspan></text>
<text x="187" y="154" font-size="11" fill="#e01010">x<tspan font-size="7" dy="3">2</tspan></text><text x="227" y="155" font-size="12">X<tspan font-size="7" dy="3">1</tspan></text>
</g>
</g>
</svg></div>

</body></html>
